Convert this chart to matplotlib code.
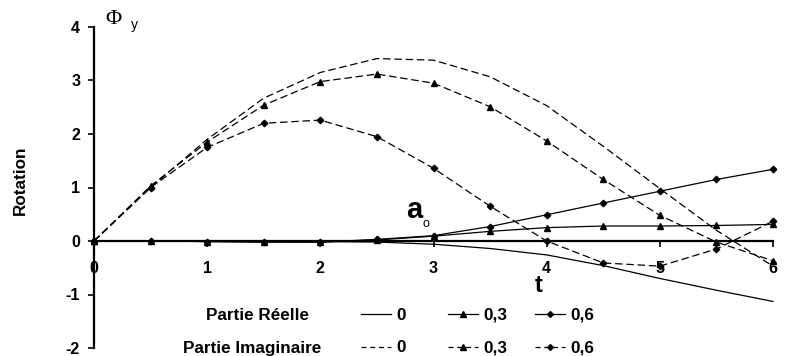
import matplotlib
matplotlib.use("Agg")
import matplotlib.pyplot as plt
from matplotlib.lines import Line2D

plt.rcParams['font.family'] = ['Liberation Sans', 'DejaVu Sans']

t = [0, 0.5, 1, 1.5, 2, 2.5, 3, 3.5, 4, 4.5, 5, 5.5, 6]
re_0 = [0, 0, 0, -0.005, -0.01, -0.02, -0.06, -0.14, -0.26, -0.46, -0.70, -0.92, -1.13]
re_03 = [0, 0, -0.01, -0.02, -0.02, 0.02, 0.09, 0.18, 0.25, 0.28, 0.28, 0.29, 0.31]
re_06 = [0, 0, -0.01, -0.02, -0.02, 0.03, 0.10, 0.27, 0.49, 0.71, 0.93, 1.15, 1.34]
im_0 = [0, 1.0, 1.9, 2.67, 3.15, 3.41, 3.38, 3.07, 2.53, 1.77, 0.98, 0.20, -0.47]
im_03 = [0, 1.03, 1.85, 2.54, 2.98, 3.12, 2.95, 2.51, 1.87, 1.15, 0.48, -0.02, -0.37]
im_06 = [0, 1.0, 1.75, 2.2, 2.26, 1.95, 1.36, 0.65, 0.0, -0.41, -0.47, -0.15, 0.37]
labels = ['0', '0,3', '0,6']
xticks = [0, 1, 2, 3, 4, 5, 6]
yticks = [-2, -1, 0, 1, 2, 3, 4]

W, H = 786, 356
fig = plt.figure(figsize=(W / 100, H / 100), dpi=100)
ax = fig.add_axes([94 / W, 8 / H, (773 - 94) / W, (348 - 27) / H])
ax.set_xlim(0, 6)
ax.set_ylim(-2, 4)

dash = (0, (6, 3))
lw = 0.9
l_r0, = ax.plot(t, re_0, color='black', lw=lw, clip_on=False)
l_r3, = ax.plot(t, re_03, color='black', lw=lw, marker='^', ms=4.8, clip_on=False)
l_r6, = ax.plot(t, re_06, color='black', lw=lw, marker='D', ms=3.3, clip_on=False)
l_i0, = ax.plot(t, im_0, color='black', lw=lw, ls=dash, clip_on=False)
l_i3, = ax.plot(t, im_03, color='black', lw=lw, ls=dash, marker='^', ms=4.8, clip_on=False)
l_i6, = ax.plot(t, im_06, color='black', lw=lw, ls=dash, marker='D', ms=3.3, clip_on=False)

for s in ['top', 'right']:
    ax.spines[s].set_visible(False)
ax.spines['bottom'].set_position(('data', 0))
ax.spines['bottom'].set_linewidth(1.6)
ax.spines['left'].set_linewidth(1.6)
ax.set_xticks(xticks)
ax.set_yticks(yticks)
tfs = 11.5
ax.set_xticklabels([str(v) for v in xticks], fontweight='bold', fontsize=tfs)
ax.set_yticklabels([str(v) for v in yticks], fontweight='bold', fontsize=tfs)
ax.tick_params(axis='x', direction='out', length=4.5, width=1.2, pad=10)
ax.tick_params(axis='y', direction='out', length=4, width=1.2, pad=6)

fs = 12.3
fig.text(20 / W, 1 - 180 / H, 'Rotation', rotation=90, ha='center', va='center',
         fontweight='bold', fontsize=fs)
fig.text(539 / W, 1 - 286 / H, 't', ha='center', va='center', fontweight='bold', fontsize=17)
fig.text(113 / W, 1 - 20 / H, 'Φ', ha='center', va='center', fontsize=16,
         family=['Liberation Serif', 'DejaVu Serif'])
fig.text(134 / W, 1 - 25 / H, 'y', ha='center', va='center', fontsize=10)
fig.text(414 / W, 1 - 210 / H, 'a', ha='center', va='center', fontweight='bold', fontsize=21,
         family=['Liberation Sans Narrow', 'Liberation Sans'])
fig.text(425.5 / W, 1 - 224 / H, 'o', ha='center', va='center', fontsize=9)

fig.text(257 / W, 1 - 315 / H, 'Partie Réelle', ha='center', va='center',
         fontweight='bold', fontsize=fs)
fig.text(252 / W, 1 - 348 / H, 'Partie Imaginaire', ha='center', va='center',
         fontweight='bold', fontsize=fs)

col_x = [361, 448, 535]

def mk_leg(handles, ycen):
    for h, lab, x0 in zip(handles, labels, col_x):
        ls = '-' if h.get_linestyle() == '-' else (0, (4, 3))
        hh = Line2D([], [], color='black', lw=lw, ls=ls,
                    marker=h.get_marker(), ms=h.get_markersize() * 0.9)
        leg = fig.legend([hh], [lab], frameon=False, loc='center left',
                         bbox_to_anchor=(x0 / W, 1 - ycen / H), borderpad=0, borderaxespad=0,
                         handlelength=1.75, handletextpad=0.3, numpoints=1,
                         prop={'weight': 'bold', 'size': fs})
        for txt in leg.get_texts():
            txt.set_fontweight('bold')

mk_leg([l_r0, l_r3, l_r6], 315)
mk_leg([l_i0, l_i3, l_i6], 348)

fig.savefig('out.png', dpi=100)
